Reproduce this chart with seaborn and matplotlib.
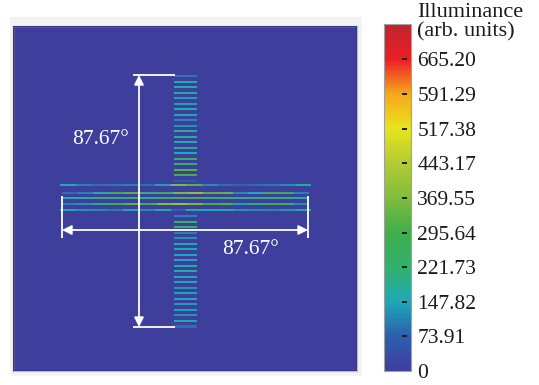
import numpy as np
import matplotlib
matplotlib.use("Agg")
import matplotlib.pyplot as plt
import matplotlib.transforms as mtransforms
from matplotlib.colors import LinearSegmentedColormap
from matplotlib.patches import Rectangle
import seaborn as sns

# ---------------------------------------------------------------- data
# colour scale of the illuminance map (arb. units)
scale_min, scale_max = 0.0, 741.0
cbar_ticks = [0, 73.91, 147.82, 221.73, 295.64, 369.55, 443.17, 517.38, 591.29, 665.20]
cbar_labels = ["0", "73.91", "147.82", "221.73", "295.64", "369.55",
               "443.17", "517.38", "591.29", "665.20"]

# illuminance of each dash of the vertical arm, top to bottom
upper_arm = [100, 150, 160, 160, 140, 140, 160, 155, 120, 125,
             170, 175, 165, 175, 150, 230, 240, 320, 300, 60]
lower_arm = [110, 230, 250, 110, 130, 155, 150, 145, 155, 150, 165,
             150, 150, 130, 145, 150, 135, 140, 125, 150, 90]

# illuminance along the lines of the horizontal arm (16 segments, left to right)
band_line_a = [150, 110, 90, 100, 110, 90, 140, 360, 320, 120, 90, 80, 90, 100, 120, 160]
band_line_b = [90, 110, 170, 290, 320, 200, 250, 360, 390, 320, 330, 120, 150, 280, 250, 110]
band_line_c = [170, 190, 210, 180, 230, 200, 240, 280, 270, 220, 230, 200, 220, 200, 210, 150]
band_line_d = [110, 130, 200, 270, 330, 290, 370, 400, 360, 300, 310, 140, 200, 290, 240, 120]
band_line_e = [160, 130, 120, 100, 150, 120, 170, 80, 170, 150, 160, 130, 120, 110, 130, 170]

angle_text = "87.67°"
cbar_title = "Illuminance\n(arb. units)"

# ---------------------------------------------------------------- grid layout
N = 500                      # cells per side of the detector grid
arm_cols = (234, 268)        # columns covered by the vertical arm
dash_rows = 3                # thickness of one dash / line in cells
upper_first, lower_first, pitch = 71, 274, 8
band_rows = [229, 240, 248, 256, 265]
band_spans = [(68, 433), (71, 430), (71, 430), (71, 430), (68, 433)]
band_lines = [band_line_a, band_line_b, band_line_c, band_line_d, band_line_e]

grid = np.zeros((N, N))
for k, v in enumerate(upper_arm):
    r = upper_first + pitch * k
    grid[r:r + dash_rows, arm_cols[0]:arm_cols[1]] = v
for k, v in enumerate(lower_arm):
    r = lower_first + pitch * k
    grid[r:r + dash_rows, arm_cols[0]:arm_cols[1]] = v
for r, (c0, c1), vals in zip(band_rows, band_spans, band_lines):
    for cols, v in zip(np.array_split(np.arange(c0, c1), len(vals)), vals):
        grid[r:r + dash_rows, cols[0]:cols[-1] + 1] = v

# ---------------------------------------------------------------- styling
cmap = LinearSegmentedColormap.from_list(
    "illum",
    ["#3e3e9c", "#2c5fb0", "#1fa9b6", "#33b06c", "#40ae4a", "#82bc3c",
     "#b2cc34", "#e8e41d", "#f6a61e", "#ec1e25", "#bd262d"])

W, H = 539, 385
fig = plt.figure(figsize=(W / 100, H / 100), dpi=100)
fig.patch.set_facecolor("white")
fig.patches.append(Rectangle((10 / W, 1 - 376 / H), 352 / W, 359 / H,
                             transform=fig.transFigure, fc="#f3f3f3",
                             ec="none", zorder=-5))

ax = fig.add_axes([13 / W, 1 - 371 / H, 344 / W, 345 / H])
cax = fig.add_axes([383.5 / W, 1 - 371 / H, 27.5 / W, 347 / H])

sns.heatmap(grid, ax=ax, cbar_ax=cax, cmap=cmap, vmin=scale_min, vmax=scale_max,
            xticklabels=False, yticklabels=False, rasterized=True)

for s in ax.spines.values():
    s.set_visible(True)
    s.set_color("#c4c0ac")
    s.set_linewidth(1.0)
ax.add_patch(Rectangle((0, 0), 1, 1, transform=ax.transAxes, fc="none",
                       ec="#37378e", lw=1.6, zorder=3))

serif = ["Liberation Serif", "DejaVu Serif"]


def ax_xy(px, py):
    return ((px - 13) / 344, 1 - (py - 26) / 345)


line_kw = dict(color="white", lw=1.3, transform=ax.transAxes, zorder=5,
               solid_capstyle="butt")
arrow_kw = dict(arrowstyle="<|-|>", color="white", lw=1.3, mutation_scale=14,
                shrinkA=0, shrinkB=0)

# vertical extent marker
ax.annotate("", xy=ax_xy(139, 75), xytext=ax_xy(139, 327), xycoords="axes fraction",
            textcoords="axes fraction", arrowprops=arrow_kw, zorder=5)
for py in (75, 327):
    (x0, y0), (x1, _) = ax_xy(133, py), ax_xy(175, py)
    ax.plot([x0, x1], [y0, y0], **line_kw)
ax.text(*ax_xy(72, 140), angle_text, transform=ax.transAxes, color="white",
        fontsize=15.5, family=serif, ha="left", va="center", zorder=6)

# horizontal extent marker
ax.annotate("", xy=ax_xy(62, 230), xytext=ax_xy(308, 230), xycoords="axes fraction",
            textcoords="axes fraction", arrowprops=arrow_kw, zorder=5)
for px in (62, 308):
    (x0, y0), (_, y1) = ax_xy(px, 196), ax_xy(px, 238)
    ax.plot([x0, x0], [y0, y1], **line_kw)
ax.text(*ax_xy(222, 249), angle_text, transform=ax.transAxes, color="white",
        fontsize=15.5, family=serif, ha="left", va="center", zorder=6)

# colour bar
cbar = ax.collections[0].colorbar
cbar.outline.set_edgecolor("#a0a0a0")
cbar.outline.set_linewidth(0.8)
cax.set_yticks(cbar_ticks)
cax.set_yticklabels(cbar_labels, family=serif, fontsize=15.5, color="#1a1a1a")
cax.tick_params(axis="y", length=0, pad=4.5)
tick_tr = mtransforms.blended_transform_factory(cax.transAxes, cax.transData)
for t in cbar_ticks[1:]:
    cax.plot([0.67, 0.87], [t, t], color="#1e1e1e", lw=1.4, transform=tick_tr,
             solid_capstyle="butt")
fig.text(417 / W, 1 - 3 / H, cbar_title, family=serif, fontsize=16,
         color="#1a1a1a", ha="left", va="top", linespacing=1.05)

fig.savefig("out.png", dpi=100)
